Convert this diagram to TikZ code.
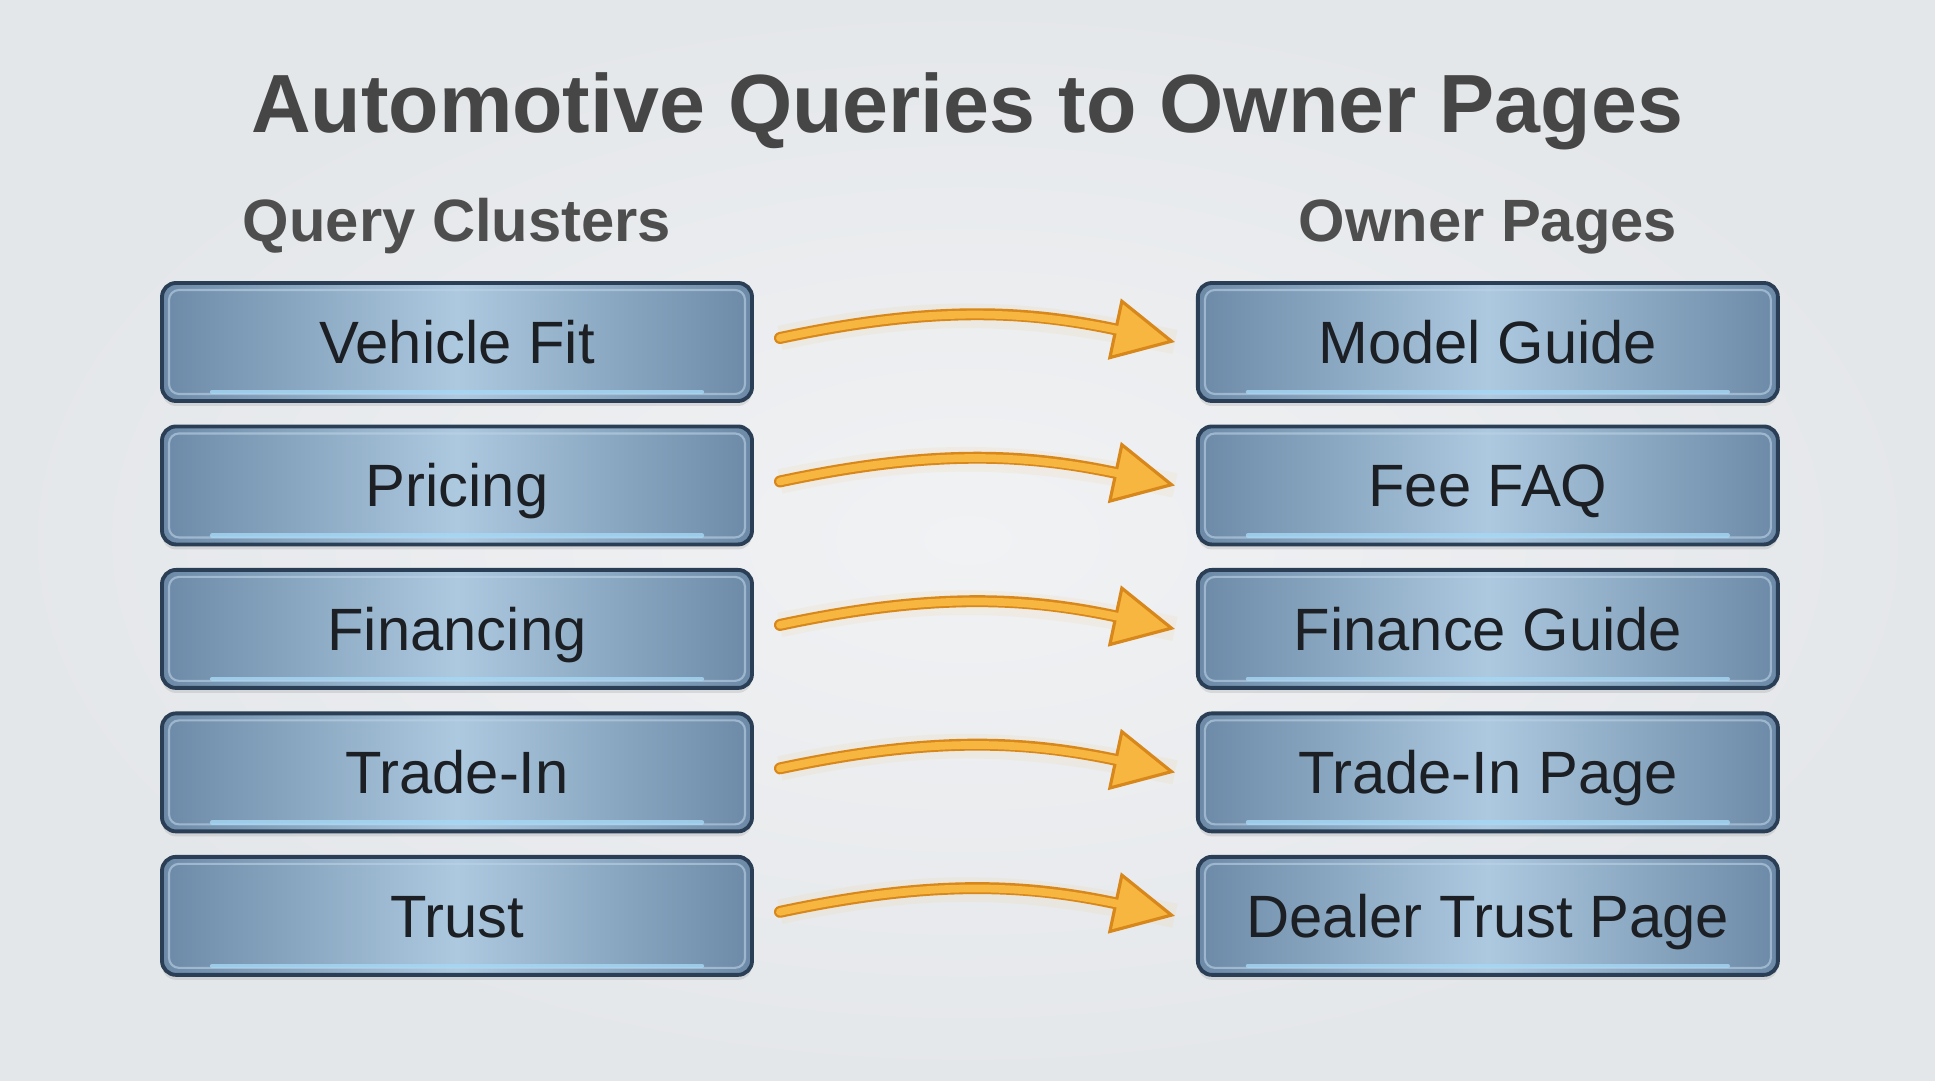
\documentclass[tikz,border=0pt]{standalone}
\usepackage{fontspec}
\setmainfont{Liberation Sans}
\usepackage{xcolor}
\usepackage{tikz}
\usetikzlibrary{arrows.meta,positioning,shadows}

\definecolor{steeledge}{HTML}{2A3F55}
\definecolor{steelside}{HTML}{6C8AA7}
\definecolor{steelmid}{HTML}{ADC9E0}
\definecolor{steelrim}{HTML}{BDD3E6}
\definecolor{glowline}{HTML}{A6D8F5}
\definecolor{arrfill}{HTML}{F6B640}
\definecolor{arredge}{HTML}{D8871A}
\definecolor{titlegray}{HTML}{464646}
\definecolor{subgray}{HTML}{4E4E4E}
\definecolor{inktext}{HTML}{1C1F23}
\definecolor{bgin}{HTML}{F1F2F4}
\definecolor{bgout}{HTML}{E4E7EA}

\tikzset{
  qbox/.style={rectangle,rounded corners=0.14cm,draw=steeledge,line width=1.1pt,
               left color=steelside,right color=steelside,middle color=steelmid,
               minimum width=#1,minimum height=1.18cm,text=inktext,
               text height=0.43cm,text depth=0pt,
               font=\fontsize{17}{20}\selectfont,
               drop shadow={shadow xshift=0pt,shadow yshift=-0.05cm,opacity=0.2},
               path picture={
                 \draw[steelrim,draw opacity=0.6,line width=0.6pt,rounded corners=0.1cm]
                   ([shift={(0.07,-0.07)}]path picture bounding box.north west) rectangle
                   ([shift={(-0.07,0.07)}]path picture bounding box.south east);
                 \draw[glowline,draw opacity=0.8,line width=1.2pt,line cap=round]
                   ([shift={(0.5,0.09)}]path picture bounding box.south west) --
                   ([shift={(-0.5,0.09)}]path picture bounding box.south east);
               }},
  qbox/.default=5.9cm,
  head/.style={font=\bfseries\fontsize{17}{20}\selectfont,text=subgray,inner sep=0pt},
  arr/.style={draw=arredge,line width=3.4pt,line cap=round,
              -{Triangle[length=0.62cm,width=0.62cm,fill=arrfill,line width=0.9pt]},
              preaction={draw=arrfill,draw opacity=0.08,line width=7pt,-},
              postaction={draw=arrfill,line width=2.2pt,-,shorten >=0.5cm}},
}

\begin{document}
\begin{tikzpicture}
  % --- background ---
  \fill[inner color=bgin,outer color=bgout] (0,0) rectangle (19.35,10.8);
  \useasboundingbox (0,0) rectangle (19.35,10.8);

  \node[anchor=base,font=\bfseries\fontsize{23.5}{28}\selectfont,text=titlegray] (ttl)
    at (9.67,9.47) {Automotive Queries to Owner Pages};

  % --- left column: query clusters ---
  \node[qbox] (vf) at (4.57,7.38) {Vehicle Fit};
  \node[qbox, below=0.216cm of vf] (pr) {Pricing};
  \node[qbox, below=0.216cm of pr] (fin) {Financing};
  \node[qbox, below=0.216cm of fin] (ti) {Trade-In};
  \node[qbox, below=0.216cm of ti] (tr) {Trust};

  \node[head, above=0.26cm of vf] (qc) {Query Clusters};

  % --- right column: owner pages ---
  \node[qbox=5.8cm, right=4.42cm of vf] (mg) {Model Guide};
  \node[qbox=5.8cm, below=0.216cm of mg] (fee) {Fee FAQ};
  \node[qbox=5.8cm, below=0.216cm of fee] (fg) {Finance Guide};
  \node[qbox=5.8cm, below=0.216cm of fg] (tipg) {Trade-In Page};
  \node[qbox=5.8cm, below=0.216cm of tipg] (dtp) {Dealer Trust Page};

  \node[head, above=0.26cm of mg] (op) {Owner Pages};

  % --- mappings ---
  \draw[arr] ([xshift=0.26cm,yshift=0.04cm]vf.east) to[out=12,in=168] ([xshift=-0.21cm]mg.west);
  \draw[arr] ([xshift=0.26cm,yshift=0.04cm]pr.east) to[out=12,in=168] ([xshift=-0.21cm]fee.west);
  \draw[arr] ([xshift=0.26cm,yshift=0.04cm]fin.east) to[out=12,in=168] ([xshift=-0.21cm]fg.west);
  \draw[arr] ([xshift=0.26cm,yshift=0.04cm]ti.east) to[out=12,in=168] ([xshift=-0.21cm]tipg.west);
  \draw[arr] ([xshift=0.26cm,yshift=0.04cm]tr.east) to[out=12,in=168] ([xshift=-0.21cm]dtp.west);
\end{tikzpicture}
\end{document}
